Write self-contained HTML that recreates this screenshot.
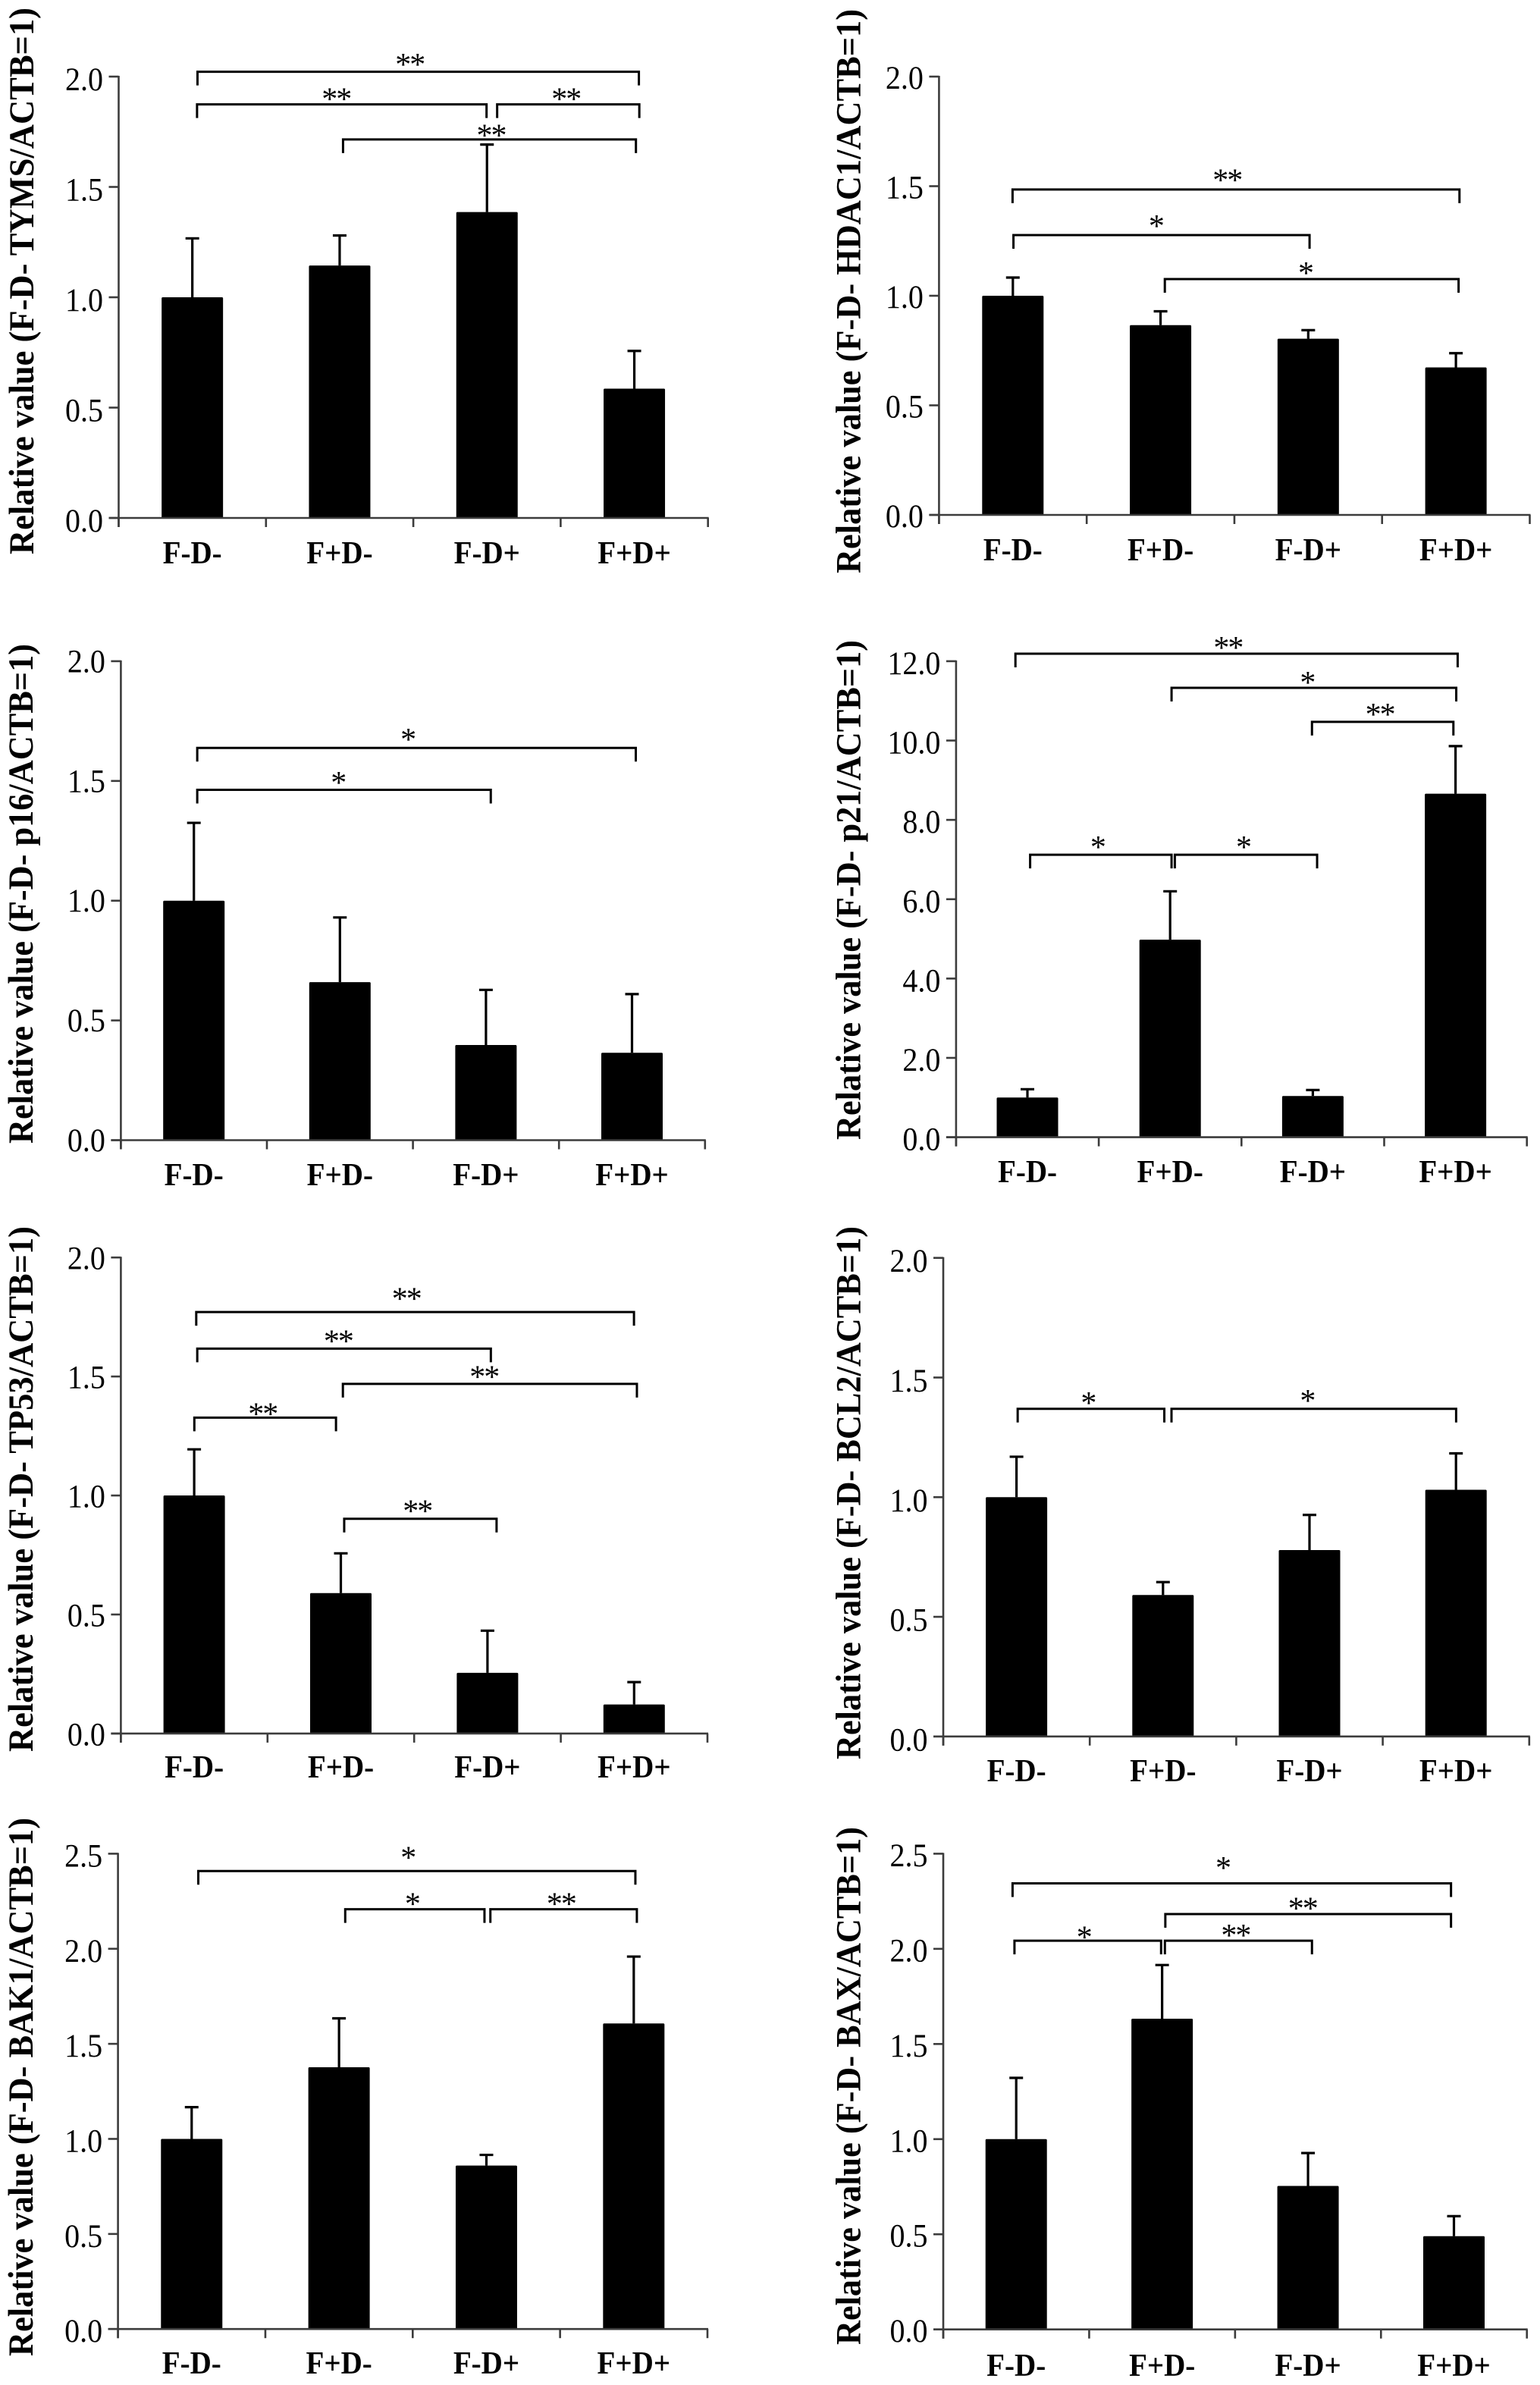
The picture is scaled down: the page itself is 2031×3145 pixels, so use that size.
<!DOCTYPE html>
<html lang="en">
<head>
<meta charset="utf-8">
<title>Relative expression bar charts</title>
<style>
html,body{margin:0;padding:0;background:#fff;}
svg{display:block;}
text{font-family:"Liberation Serif",serif;fill:#000;}
</style>
</head>
<body>
<svg id="figure" xmlns="http://www.w3.org/2000/svg" width="2031" height="3145" viewBox="0 0 2031 3145">
<rect x="0" y="0" width="2031" height="3145" fill="#fff"></rect>
<g id="panel-tyms"></g>
<g id="panel-hdac1"></g>
<g id="panel-p16"></g>
<g id="panel-p21"></g>
<g id="panel-tp53"></g>
<g id="panel-bcl2"></g>
<g id="panel-bak1"></g>
<g id="panel-bax"></g>
</svg>
<script>
const categories = ['F-D-', 'F+D-', 'F-D+', 'F+D+'];
const ticksTo2 = ['0.0', '0.5', '1.0', '1.5', '2.0'];
const ticksTo2p5 = ['0.0', '0.5', '1.0', '1.5', '2.0', '2.5'];
const ticksTo12 = ['0.0', '2.0', '4.0', '6.0', '8.0', '10.0', '12.0'];

const tymsValues = [1.0, 1.144, 1.386, 0.586];
const tymsErrors = [0.267, 0.136, 0.306, 0.171];
const hdac1Values = [1.0, 0.866, 0.804, 0.673];
const hdac1Errors = [0.083, 0.063, 0.039, 0.065];
const p16Values = [1.0, 0.66, 0.3975, 0.365];
const p16Errors = [0.325, 0.27, 0.23, 0.245];
const p21Values = [1.0, 4.98, 1.04, 8.66];
const p21Errors = [0.21, 1.22, 0.15, 1.2];
const tp53Values = [1.0, 0.59, 0.255, 0.122];
const tp53Errors = [0.194, 0.167, 0.177, 0.094];
const bcl2Values = [1.0, 0.591, 0.779, 1.031];
const bcl2Errors = [0.169, 0.054, 0.147, 0.152];
const bak1Values = [1.0, 1.377, 0.86, 1.607];
const bak1Errors = [0.167, 0.257, 0.056, 0.352];
const baxValues = [1.0, 1.633, 0.754, 0.49];
const baxErrors = [0.322, 0.282, 0.173, 0.105];

// significance brackets in axis units: from-category, to-category, value level, mark, mark category, mark value
const tymsBrackets = [
  [0.535, 3.531, 2.022, '**', 1.975, 2.075],
  [0.532, 2.497, 1.874, '**', 1.476, 1.92],
  [2.569, 3.534, 1.874, '**', 3.035, 1.92],
  [1.523, 3.511, 1.715, '**', 2.527, 1.754]
];
const hdac1Brackets = [
  [0.498, 3.524, 1.485, '**', 1.95, 1.549],
  [0.504, 2.509, 1.277, '*', 1.468, 1.339],
  [1.529, 3.518, 1.076, '*', 2.48, 1.124]
];
const p16Brackets = [
  [0.523, 3.526, 1.638, '*', 1.964, 1.692],
  [0.523, 2.533, 1.463, '*', 1.487, 1.512]
];
const p21Brackets = [
  [0.416, 3.515, 12.19, '**', 1.905, 12.46],
  [1.51, 3.505, 11.33, '*', 2.46, 11.58],
  [2.494, 3.485, 10.47, '**', 2.969, 10.77],
  [0.519, 1.51, 7.12, '*', 0.991, 7.43],
  [1.533, 2.53, 7.12, '*', 2.012, 7.43]
];
const tp53Brackets = [
  [0.514, 3.499, 1.771, '**', 1.946, 1.846],
  [0.521, 2.523, 1.617, '**', 1.481, 1.668],
  [1.514, 3.519, 1.469, '**', 2.476, 1.518],
  [0.501, 1.467, 1.327, '**', 0.966, 1.362],
  [1.523, 2.562, 0.902, '**', 2.021, 0.954]
];
const bcl2Brackets = [
  [0.508, 1.509, 1.369, '*', 0.988, 1.413],
  [1.558, 3.501, 1.369, '*', 2.484, 1.422]
];
const bak1Brackets = [
  [0.545, 3.511, 2.409, '*', 1.966, 2.504],
  [1.542, 2.487, 2.208, '*', 1.995, 2.261],
  [2.527, 3.521, 2.208, '**', 3.006, 2.261]
];
const baxBrackets = [
  [0.475, 3.48, 2.344, '*', 1.915, 2.449],
  [1.522, 3.48, 2.183, '**', 2.462, 2.236],
  [1.519, 2.527, 2.043, '**', 2.003, 2.096],
  [0.488, 1.493, 2.043, '*', 0.963, 2.086]
];

const SVG_NS = 'http://www.w3.org/2000/svg';
const AXIS_COLOR = '#3c3c3c';
const BAR_WIDTH = 81;

function make(parent, tag, attrs, content) {
  const node = document.createElementNS(SVG_NS, tag);
  for (const key in attrs) node.setAttribute(key, attrs[key]);
  if (content !== undefined) node.textContent = content;
  parent.appendChild(node);
  return node;
}

function squeezed(x, y) {
  return 'translate(' + x + ' ' + y + ') scale(0.93 1)';
}

function drawPanel(id, frame, title, ticks, values, errors, brackets) {
  const g = document.getElementById(id);
  const maxValue = parseFloat(ticks[ticks.length - 1]);
  const band = (frame.right - frame.left) / categories.length;
  const xScale = function (u) { return frame.left + u * band; };
  const yScale = function (v) { return frame.bottom - (v / maxValue) * (frame.bottom - frame.top); };
  let el;

  values.forEach(function (value, i) {
    const cx = xScale(i + 0.5);
    const topY = yScale(value);
    const errY = yScale(value + errors[i]);

    el = make(g, 'line', {x1: cx, x2: cx, y1: topY, y2: errY, stroke: '#000', 'stroke-width': 3.2});
    
    

    el = make(g, 'line', {x1: cx - 9, x2: cx + 9, y1: errY, y2: errY, stroke: '#000', 'stroke-width': 3.2});
    
    

    el = make(g, 'rect', {x: cx - BAR_WIDTH / 2, y: topY, width: BAR_WIDTH, height: frame.bottom - topY, fill: '#000', rx: 1.5});
    
    

    el = make(g, 'text', {transform: squeezed(cx, frame.labelY - 1), x: 0, y: 0, 'text-anchor': 'middle', 'font-size': 42, 'font-weight': 'bold'}, categories[i]);
    
    
  });

  el = make(g, 'line', {x1: frame.left, x2: frame.left, y1: frame.top - 1, y2: frame.bottom + 12, stroke: AXIS_COLOR, 'stroke-width': 2.6});
  
  

  el = make(g, 'line', {x1: frame.left - 13, x2: frame.right + 1, y1: frame.bottom, y2: frame.bottom, stroke: AXIS_COLOR, 'stroke-width': 2.6});
  
  

  for (let i = 0; i <= categories.length; i++) {
    el = make(g, 'line', {x1: xScale(i), x2: xScale(i), y1: frame.bottom, y2: frame.bottom + 12, stroke: AXIS_COLOR, 'stroke-width': 2.6});
    
    
  }

  ticks.forEach(function (label) {
    const ty = yScale(parseFloat(label));
    el = make(g, 'line', {x1: frame.left - 13, x2: frame.left, y1: ty, y2: ty, stroke: AXIS_COLOR, 'stroke-width': 2.6});
    
    

    el = make(g, 'text', {transform: squeezed(frame.left - 20.5, ty + 14.5 + frame.tickShift), x: 0, y: 0, 'text-anchor': 'end', 'font-size': 43}, label);
    
    
  });

  brackets.forEach(function (b) {
    const x1 = xScale(b[0]);
    const x2 = xScale(b[1]);
    const by = yScale(b[2]);
    el = make(g, 'path', {d: 'M' + x1 + ' ' + (by + 18) + 'V' + by + 'H' + x2 + 'V' + (by + 18), fill: 'none', stroke: '#000', 'stroke-width': 3});
    
    

    el = make(g, 'text', {x: xScale(b[4]), y: yScale(b[5]) + 20, 'text-anchor': 'middle', 'font-size': 42, 'letter-spacing': '-2px'}, b[3]);
    
    
  });

  el = make(g, 'text', {
    transform: 'translate(' + frame.titleX + ' ' + frame.titleBottom + ') rotate(-90)',
    x: 0, y: 0, 'font-size': 47, 'font-weight': 'bold',
    textLength: frame.titleBottom - frame.titleTop, lengthAdjust: 'spacingAndGlyphs'
  }, title);
  
  
}

drawPanel('panel-tyms', {left: 156.5, right: 933.7, top: 101, bottom: 683, labelY: 744, titleX: 44, titleTop: 10, titleBottom: 731, tickShift: 3.5},
  'Relative value (F-D- TYMS/ACTB=1)', ticksTo2, tymsValues, tymsErrors, tymsBrackets);
drawPanel('panel-hdac1', {left: 1238.4, right: 2017.5, top: 101, bottom: 679, labelY: 740, titleX: 1134.5, titleTop: 12, titleBottom: 756, tickShift: 1.5},
  'Relative value (F-D- HDAC1/ACTB=1)', ticksTo2, hdac1Values, hdac1Errors, hdac1Brackets);
drawPanel('panel-p16', {left: 159.4, right: 929.8, top: 871.9, bottom: 1503.5, labelY: 1564, titleX: 43, titleTop: 849, titleBottom: 1508, tickShift: 0},
  'Relative value (F-D- p16/ACTB=1)', ticksTo2, p16Values, p16Errors, p16Brackets);
drawPanel('panel-p21', {left: 1260.9, right: 2013.7, top: 871.9, bottom: 1499.6, labelY: 1560, titleX: 1134.5, titleTop: 844, titleBottom: 1503, tickShift: 2.5},
  'Relative value (F-D- p21/ACTB=1)', ticksTo12, p21Values, p21Errors, p21Brackets);
drawPanel('panel-tp53', {left: 159.4, right: 933, top: 1658.2, bottom: 2285.9, labelY: 2345, titleX: 43, titleTop: 1617, titleBottom: 2310, tickShift: 1},
  'Relative value (F-D- TP53/ACTB=1)', ticksTo2, tp53Values, tp53Errors, tp53Brackets);
drawPanel('panel-bcl2', {left: 1244, right: 2016.8, top: 1658.7, bottom: 2289.8, labelY: 2350, titleX: 1134.5, titleTop: 1617, titleBottom: 2320, tickShift: 4},
  'Relative value (F-D- BCL2/ACTB=1)', ticksTo2, bcl2Values, bcl2Errors, bcl2Brackets);
drawPanel('panel-bak1', {left: 155.6, right: 933, top: 2444.4, bottom: 3071.2, labelY: 3131, titleX: 43, titleTop: 2397, titleBottom: 3107, tickShift: 2.5},
  'Relative value (F-D- BAK1/ACTB=1)', ticksTo2p5, bak1Values, bak1Errors, bak1Brackets);
drawPanel('panel-bax', {left: 1244, right: 2013.7, top: 2444.4, bottom: 3071.7, labelY: 3134, titleX: 1134.5, titleTop: 2409, titleBottom: 3092, tickShift: 2},
  'Relative value (F-D- BAX/ACTB=1)', ticksTo2p5, baxValues, baxErrors, baxBrackets);
</script>
</body>
</html>
